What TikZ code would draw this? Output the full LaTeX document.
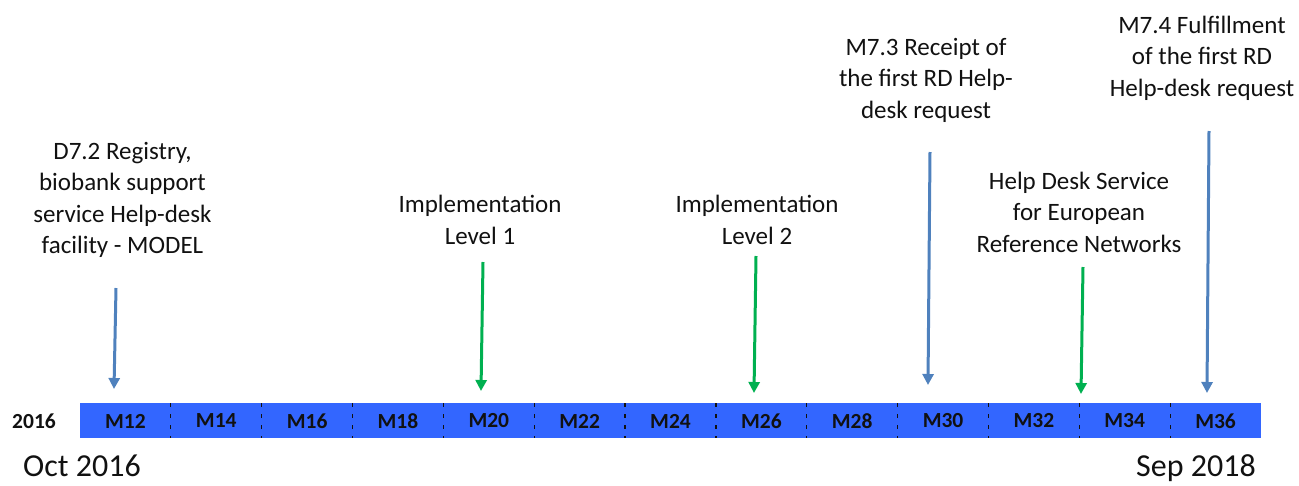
\documentclass[tikz,border=0pt]{standalone}
\usepackage{fontspec}
\setmainfont{Carlito}
\usetikzlibrary{arrows.meta,positioning,calc}
\definecolor{barBlue}{HTML}{3366FF}
\definecolor{msBlue}{HTML}{4F81BD}
\definecolor{msGreen}{HTML}{00B050}
\definecolor{ink}{HTML}{111111}
\tikzset{
  note/.style={align=center,inner sep=0pt,text=ink,font=\fontsize{25}{31.5}\selectfont},
  cell/.style={inner sep=0pt,text=ink,font=\bfseries\fontsize{21.5}{24}\selectfont},
  datelabel/.style={inner sep=0pt,anchor=base,text=ink,font=\fontsize{32}{35}\selectfont},
  blueArrow/.style={-{Triangle[length=11pt,width=11pt]},line width=3pt,msBlue},
  greenArrow/.style={-{Triangle[length=11pt,width=11pt]},line width=3pt,msGreen},
  cellsep/.style={line width=1.2pt,dash pattern=on 4pt off 7pt,ink}
}

\begin{document}
\begin{tikzpicture}[x=1pt,y=-1pt]
\useasboundingbox (0,0) rectangle (1299,485);

% ---------- time bar ----------
\node[fill=barBlue,inner sep=0pt,minimum width=1181pt,minimum height=35pt,
      anchor=north west] (bar) at (80,403) {};
\foreach \m [count=\i from 0] in {12,14,...,36}
  \node[cell] (m\m) at ({80+90.846*(\i+0.5)},421) {M\m};
\foreach \i in {1,...,12}
  \draw[cellsep] ({80+90.846*\i},403) -- ({80+90.846*\i},438);
\node[cell] (year) at (34,421) {2016};

\node[datelabel] (start) at (82,476) {Oct 2016};
\node[datelabel] (finish) at (1196,476) {Sep 2018};

% ---------- milestones and deliverables ----------
\node[note] (d72) at (122.5,200) {D7.2 Registry,\\ biobank support\\ service Help-desk\\ facility - MODEL};
\node[note] (impl1) at (480,220) {Implementation\\ Level 1};
\node[note] (impl2) at (757,220) {Implementation\\ Level 2};
\node[note] (m73) at (926,80) {M7.3 Receipt of\\ the first RD Help-\\ desk request};
\node[note] (hds) at (1079,212) {Help Desk Service\\ for European\\ Reference Networks};
\node[note] (m74) at (1202,58) {M7.4 Fulfillment\\ of the first RD\\ Help-desk request};

% arrow ends, read off the timeline
\coordinate (d72a) at (116,288);   \coordinate (d72b) at (114,389);
\coordinate (impl1a) at (483,262); \coordinate (impl1b) at (481,391);
\coordinate (impl2a) at (756,256); \coordinate (impl2b) at (754,393);
\coordinate (m73a) at (930,152);   \coordinate (m73b) at (928,385);
\coordinate (hdsa) at (1083,267);  \coordinate (hdsb) at (1081,394);
\coordinate (m74a) at (1209,131);  \coordinate (m74b) at (1207,393);

\draw[blueArrow] (d72a) -- (d72b);
\draw[greenArrow] (impl1a) -- (impl1b);
\draw[greenArrow] (impl2a) -- (impl2b);
\draw[blueArrow] (m73a) -- (m73b);
\draw[greenArrow] (hdsa) -- (hdsb);
\draw[blueArrow] (m74a) -- (m74b);
\end{tikzpicture}
\end{document}
